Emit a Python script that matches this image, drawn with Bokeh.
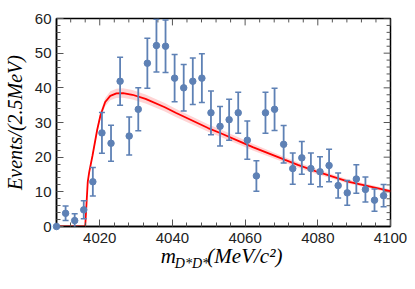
from bokeh.plotting import figure
from bokeh.models import (ColumnDataSource, Whisker, TeeHead, LinearAxis,
                          FixedTicker, Range1d)
from bokeh.embed import file_html
from bokeh.resources import INLINE

# ---- data ----
bin_centers = [4008.1, 4010.6, 4013.1, 4015.6, 4018.1, 4020.6, 4023.1, 4025.6, 4028.1,
               4030.6, 4033.1, 4035.6, 4038.1, 4040.6, 4043.1, 4045.6, 4048.1, 4050.6,
               4053.1, 4055.6, 4058.1, 4060.6, 4063.1, 4065.6, 4068.1, 4070.6, 4073.1,
               4075.6, 4078.1, 4080.6, 4083.1, 4085.6, 4088.1, 4090.6, 4093.1, 4095.6,
               4098.1]
events = [0.0, 3.8, 1.7, 4.8, 12.9, 27.0, 24.0, 41.9, 26.1,
          33.8, 47.1, 52.2, 52.0, 42.8, 40.0, 41.9, 42.8, 32.8,
          28.9, 30.8, 32.8, 24.9, 14.6, 32.8, 33.8, 23.7, 16.7,
          19.8, 16.7, 15.8, 17.6, 11.8, 9.7, 13.7, 10.7, 7.6,
          8.9]
errors = [0.0, 2.1, 2.0, 2.6, 4.1, 5.9, 5.2, 6.9, 5.5,
          6.2, 7.2, 7.6, 7.6, 6.8, 6.7, 6.7, 7.0, 6.3,
          5.7, 5.9, 5.9, 5.5, 4.4, 5.9, 6.1, 5.4, 4.5,
          4.7, 4.5, 4.3, 4.7, 3.6, 3.6, 4.1, 3.6, 3.2,
          3.2]

fit_mass = [4008.1, 4016.0, 4016.7, 4017.1, 4018.0, 4019.3, 4020.2, 4021.5, 4022.9,
            4024.6, 4026.4, 4029.0, 4032.6, 4037.9, 4040.9, 4049.8, 4053.3, 4058.6,
            4062.1, 4071.0, 4074.5, 4079.8, 4088.6, 4100.0]
fit_events = [0.0, 0.0, 12.9, 15.7, 20.4, 27.9, 32.1, 35.9, 37.7,
              38.4, 38.5, 38.0, 36.8, 34.4, 32.8, 28.4, 26.9, 24.5,
              22.9, 19.2, 17.8, 15.8, 12.9, 10.2]
fit_halfwidth = [0.0, 0.0, 0.5, 0.6, 0.7, 0.9, 1.0, 1.2, 1.3,
                 1.35, 1.35, 1.35, 1.3, 1.25, 1.2, 1.1, 1.05, 1.0,
                 0.95, 0.8, 0.75, 0.7, 0.6, 0.5]

x_major = [4020, 4040, 4060, 4080, 4100]
x_minor = [4008, 4012, 4016, 4024, 4028, 4032, 4036, 4044, 4048, 4052, 4056,
           4064, 4068, 4072, 4076, 4084, 4088, 4092, 4096]
y_major = [0, 10, 20, 30, 40, 50, 60]
y_minor = [2, 4, 6, 8, 12, 14, 16, 18, 22, 24, 26, 28, 32, 34, 36, 38,
           42, 44, 46, 48, 52, 54, 56, 58]

y_title = "Events/(2.5MeV)"
x_title_main = ["m", "(MeV/c\u00b2)"]
x_title_sub = ["D*D*"]

BLUE = "#5E81B5"
RED = "#FF0000"
X0, X1, Y0, Y1 = 4008.1, 4100.0, 0.0, 60.0

W, H = 407, 273
B_LEFT, B_RIGHT, B_TOP, B_BOTTOM = 49, 17, 18, 44
FW = W - B_LEFT - B_RIGHT
FH = H - B_TOP - B_BOTTOM

p = figure(width=W, height=H, x_range=Range1d(X0, X1), y_range=Range1d(Y0, Y1),
           output_backend="svg", toolbar_location=None,
           min_border_left=B_LEFT, min_border_right=B_RIGHT,
           min_border_top=B_TOP, min_border_bottom=B_BOTTOM)
p.xgrid.visible = False
p.ygrid.visible = False
p.outline_line_color = "black"
p.outline_line_width = 1.5
p.background_fill_color = "white"
p.border_fill_color = "white"

def style_axis(ax):
    ax.axis_line_color = "black"
    ax.axis_line_width = 1.5
    ax.major_tick_in = 7
    ax.major_tick_out = 0
    ax.minor_tick_in = 4
    ax.minor_tick_out = 0
    ax.major_tick_line_color = "#555555"
    ax.minor_tick_line_color = "#555555"
    ax.major_label_text_font = "Liberation Sans"
    ax.major_label_text_font_size = "15px"
    ax.major_label_text_color = "#222222"

xa = p.xaxis[0]
ya = p.yaxis[0]
xa.ticker = FixedTicker(ticks=x_major, minor_ticks=x_minor)
ya.ticker = FixedTicker(ticks=y_major, minor_ticks=y_minor)
style_axis(xa)
style_axis(ya)
xa.major_label_standoff = 6
ya.major_label_standoff = 5
ya.axis_label = y_title
ya.axis_label_text_font = "Liberation Serif"
ya.axis_label_text_font_style = "italic"
ya.axis_label_text_font_size = "20px"
ya.axis_label_text_color = "black"
ya.axis_label_standoff = 6

# x-axis title: pieces carried as labels of two extra, line-less axes
def ref_px(px):
    return X0 + (px - 49.3) * 20.0 / 75.5

def title_axis(ticks, texts, size, standoff):
    ax = LinearAxis(ticker=FixedTicker(ticks=ticks, minor_ticks=[]))
    ax.major_label_overrides = {t: s for t, s in zip(ticks, texts)}
    ax.axis_line_color = None
    ax.major_tick_line_color = None
    ax.minor_tick_line_color = None
    ax.major_tick_in = 0
    ax.major_tick_out = 0
    ax.minor_tick_in = 0
    ax.minor_tick_out = 0
    ax.major_label_text_font = "Liberation Serif"
    ax.major_label_text_font_style = "italic"
    ax.major_label_text_font_size = size
    ax.major_label_text_color = "black"
    ax.major_label_standoff = standoff
    p.add_layout(ax, "below")
    return ax

title_axis([ref_px(190.0)], x_title_sub, "14px", 10)
title_axis([ref_px(165.5), ref_px(245.0)], x_title_main, "21px", -30)

# inward ticks on the top and right frame edges
px_y = (Y1 - Y0) / FH
px_x = (X1 - X0) / FW
p.segment(x0=x_major, y0=[Y1] * len(x_major), x1=x_major, y1=[Y1 - 7 * px_y] * len(x_major),
          line_color="#555555", line_width=1)
p.segment(x0=x_minor, y0=[Y1] * len(x_minor), x1=x_minor, y1=[Y1 - 4 * px_y] * len(x_minor),
          line_color="#555555", line_width=1)
p.segment(x0=[X1] * len(y_major), y0=y_major, x1=[X1 - 7 * px_x] * len(y_major), y1=y_major,
          line_color="#555555", line_width=1)
p.segment(x0=[X1] * len(y_minor), y0=y_minor, x1=[X1 - 4 * px_x] * len(y_minor), y1=y_minor,
          line_color="#555555", line_width=1)

# fit band and curve
band_lo = [v - h for v, h in zip(fit_events, fit_halfwidth)]
band_hi = [v + h for v, h in zip(fit_events, fit_halfwidth)]
p.varea(x=fit_mass, y1=band_lo, y2=band_hi, fill_color=RED, fill_alpha=0.17)
p.line(fit_mass, fit_events, line_color=RED, line_width=1.8)

# data points with error bars
src = ColumnDataSource(dict(
    x=bin_centers, y=events,
    lo=[v - e for v, e in zip(events, errors)],
    hi=[v + e for v, e in zip(events, errors)],
))
w = Whisker(source=src, base="x", upper="hi", lower="lo",
            line_color=BLUE, line_width=1.8, level="annotation",
            upper_head=TeeHead(size=6, line_color=BLUE, line_width=1.5),
            lower_head=TeeHead(size=6, line_color=BLUE, line_width=1.5))
p.add_layout(w)
sc = p.scatter("x", "y", source=src, size=6.5, color=BLUE)
sc.level = "annotation"

open("out.html", "w").write(file_html(p, INLINE))
